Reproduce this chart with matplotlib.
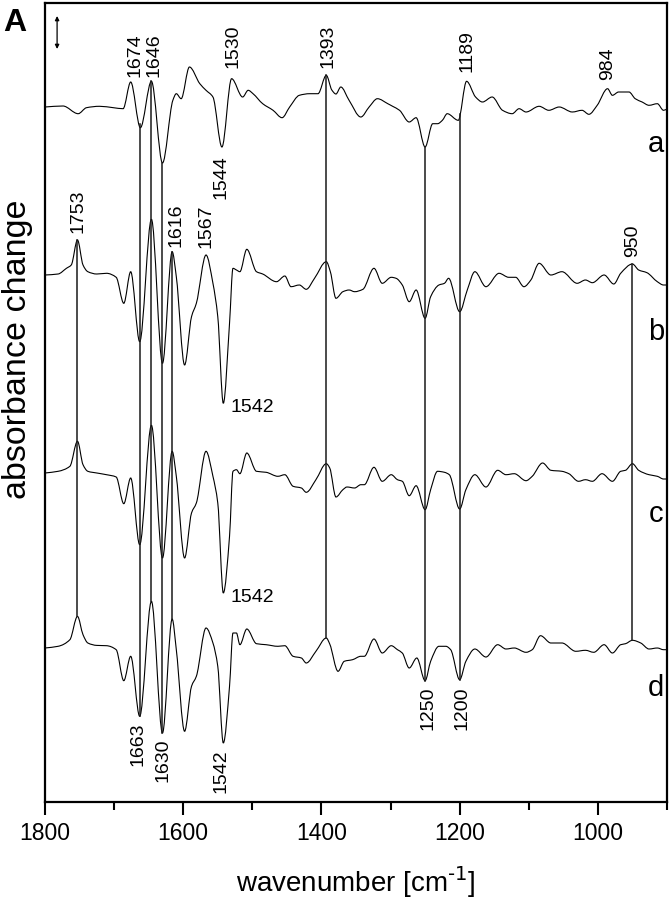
import numpy as np
import matplotlib
matplotlib.use('Agg')
import matplotlib.pyplot as plt
from matplotlib.path import Path
from matplotlib.patches import PathPatch

plt.rcParams['font.family'] = ['Liberation Sans', 'DejaVu Sans']
plt.rcParams['mathtext.default'] = 'regular'

# ---------------- data (arbitrary absorbance units) -------------
wn_a = [1800, 1774, 1752, 1740, 1721, 1701, 1687, 1676, 1662, 1646, 1630, 1615, 1610, 1603,
        1591, 1576, 1567, 1557, 1544, 1530, 1514, 1506, 1499, 1485, 1470, 1457, 1446, 1432,
        1417, 1405, 1393, 1385, 1379, 1372, 1360, 1343, 1331, 1319, 1304, 1297, 1287, 1273,
        1263, 1250, 1239, 1232, 1225, 1218, 1202, 1190, 1177, 1167, 1153, 1138, 1124, 1114,
        1104, 1085, 1071, 1056, 1037, 1023, 1013, 1001, 986, 979, 970, 955, 946, 936, 926,
        914, 905, 900]
val_a = [0, 1, -6.7, -0.7, 0.7, -0.7, -1.7, 25, -20.7, 25.7, -56, 6.7, 13.3, 8.3,
         40, 23.3, 16.7, 10, -40, 28.3, 10, 16.7, 13.3, 3.3, -3.3, -10.7, 0, 11.7,
         13.3, 13.3, 31.7, 17, 13, 20, 6.7, -10, 0, 8.3, 3.3, 0.7, -3.3, -15,
         -10.7, -40, -16.7, -16.7, -13.3, -6.7, -13.3, 25.7, 10, 5, 10, -3.3, -6.7, -1.7,
         -5, 0.7, -3.3, 0, -5, -3.3, -7.3, 1.7, 18.3, 11.7, 15, 15, 8.3, 5, 1.7,
         3.3, -3.3, -2]

wn_b = [1800, 1781, 1769, 1762, 1753, 1745, 1738, 1725, 1711, 1697, 1686, 1676, 1663, 1646,
        1630, 1616, 1610, 1598, 1588, 1581, 1567, 1557, 1550, 1542, 1533, 1528, 1523, 1518,
        1508, 1494, 1485, 1465, 1453, 1444, 1432, 1422, 1410, 1393, 1387, 1379, 1369, 1360,
        1352, 1340, 1324, 1312, 1299, 1292, 1283, 1273, 1263, 1250, 1242, 1230, 1222, 1216,
        1200, 1189, 1178, 1162, 1143, 1129, 1119, 1107, 1097, 1085, 1068, 1052, 1030, 1018,
        1008, 991, 977, 967, 950, 941, 929, 914, 905, 900]
val_b = [0, 1, 6.7, 10, 35, 10, 3.3, 1, 1.7, -2.3, -28.3, 3.3, -66.7, 55.7,
         -88.3, 23.3, -1.7, -90, -41.7, -28.3, 20, -8.3, -41.7, -128.3, -48.3, 6.7, 5, 3.3,
         25.7, 3.3, 1, -6.7, -1, -11.7, -10, -14.3, -3.3, 13.3, 3, -23.3, -16.7, -15,
         -16.7, -14.3, 6.7, -8.3, -2.3, -3.3, -10, -26.7, -15, -43.3, -21.7, -10, -8.3, -3.3,
         -36.7, -15, 3.3, -11.7, 1.7, -2.3, -2.3, -11.7, -5, 11.7, 0, 3.3, -8.3, -5,
         -7.7, 0, -9, 1.7, 11, 5, 2.3, -6.7, -10, -10]

wn_c = [1800, 1781, 1764, 1753, 1745, 1738, 1725, 1711, 1697, 1686, 1676, 1663, 1646, 1630,
        1616, 1610, 1598, 1588, 1581, 1567, 1557, 1550, 1542, 1533, 1528, 1523, 1518, 1508,
        1494, 1480, 1463, 1453, 1441, 1429, 1422, 1408, 1393, 1388, 1379, 1369, 1363, 1352,
        1343, 1338, 1324, 1312, 1299, 1290, 1283, 1273, 1263, 1250, 1242, 1232, 1222, 1215,
        1200, 1191, 1178, 1162, 1145, 1133, 1121, 1104, 1095, 1080, 1068, 1052, 1042, 1028,
        1018, 1008, 994, 979, 967, 960, 950, 941, 926, 914, 905, 900]
val_c = [0, 1.7, 6.7, 31.7, 8.3, 1.7, 0, -1.7, -4, -30.7, -5, -71.7, 47.7, -85,
         21.7, -3.3, -85, -40, -30, 21.7, -3.3, -30, -120, -63.3, 1.7, 3.3, -0.7, 20,
         1.7, 0.7, -3.3, -1.7, -13.3, -15, -19.3, -6.7, 9.3, 5, -24, -16.7, -14, -15,
         -11.7, -11.7, 5.7, -8.3, -1.7, -6.7, -8.3, -22.7, -12.7, -36.7, -16.7, 1.7, 0.7, -1.7,
         -36, -16.7, -1.7, -14, 2.7, -1.7, -0.7, -7.7, -3.3, 10, 2.7, 1.7, -0.7, -8.3,
         -6.7, -8.3, -0.7, -8.3, 1.7, 2.7, 9.3, 2.7, -1.7, -3.3, -6, -6]

wn_d = [1800, 1781, 1764, 1753, 1745, 1738, 1725, 1711, 1697, 1686, 1676, 1663, 1646, 1630,
        1616, 1610, 1598, 1588, 1581, 1567, 1557, 1550, 1542, 1533, 1528, 1523, 1518, 1508,
        1494, 1480, 1463, 1453, 1441, 1429, 1422, 1408, 1393, 1388, 1376, 1367, 1355, 1343,
        1338, 1324, 1312, 1299, 1290, 1283, 1273, 1262, 1250, 1242, 1230, 1220, 1213, 1200,
        1191, 1178, 1162, 1145, 1133, 1121, 1104, 1095, 1083, 1068, 1052, 1032, 1018, 1006,
        991, 979, 967, 960, 950, 938, 926, 914, 905, 900]
val_d = [0, 1.7, 8.3, 31.6, 13.3, 5, 2.6, 2.3, -1.7, -32.7, -8.3, -68.3, 46.7, -85,
         29, -1.7, -83.3, -38.3, -28.3, 20, 5, -18.3, -95, -38.3, 15, 15, 3.3, 19,
         4.3, 3.3, 1.7, 2.3, -8.3, -10, -15, -3.3, 10, 4, -23.3, -13.3, -11.7, -8.3,
         -8.3, 9, -5, 2.3, -1.7, -5, -20, -10, -32.7, -13.3, 1.7, 1.7, -1.7, -31.7,
         -13.3, -1, -9, 3.3, -1, 0, -4.3, -1.7, 12.3, 5, 5, -3.3, -2.3, -4.3,
         3.3, -5, 3.3, 4.3, 7.7, 5, -1, 0, -1.7, -1.7]

trace_names = ['a', 'b', 'c', 'd']
trace_offsets = [695, 527, 329, 154]

# marker lines: (wavenumber, from trace, to trace)
marker_wn = [1753, 1663, 1646, 1630, 1616, 1393, 1250, 1200, 950]
marker_from = ['b', 'a', 'a', 'a', 'b', 'a', 'a', 'a', 'b']
marker_to = ['d', 'd', 'd', 'd', 'd', 'd', 'd', 'd', 'd']

# peak labels
lab_above_text = ['1674', '1646', '1530', '1393', '1189', '984', '1753', '1616', '1567', '950']
lab_above_wn = [1670, 1642.5, 1528.5, 1391, 1190, 986.5, 1752, 1610, 1566.5, 949.5]
lab_above_y = [725, 725, 734, 734, 730, 722, 569, 555, 554, 545]
lab_below_text = ['1544', '1663', '1630', '1542', '1250', '1200']
lab_below_wn = [1545, 1666, 1629, 1545, 1245.5, 1197]
lab_below_y = [647, 80, 63, 53, 116, 116]
lab_h_text = ['1542', '1542']
lab_h_wn = [1532, 1531]
lab_h_y = [394, 204]

xticks_major = [1800, 1600, 1400, 1200, 1000]
xticks_minor = [1700, 1500, 1300, 1100, 900]

traces = {
    'a': (wn_a, val_a),
    'b': (wn_b, val_b),
    'c': (wn_c, val_c),
    'd': (wn_d, val_d),
}


def smooth_path(x, y):
    """Monotone cubic Hermite (Bezier) path through the given points."""
    x = np.asarray(x, float)
    y = np.asarray(y, float)
    order = np.argsort(x)
    x, y = x[order], y[order]
    h = np.diff(x)
    d = np.diff(y) / h
    n = len(x)
    m = np.zeros(n)
    m[0], m[-1] = d[0], d[-1]
    for k in range(1, n - 1):
        if d[k - 1] * d[k] <= 0:
            m[k] = 0.0
        else:
            w1 = 2 * h[k] + h[k - 1]
            w2 = h[k] + 2 * h[k - 1]
            m[k] = (w1 + w2) / (w1 / d[k - 1] + w2 / d[k])
    verts = [(x[0], y[0])]
    codes = [Path.MOVETO]
    for k in range(n - 1):
        verts += [(x[k] + h[k] / 3, y[k] + m[k] * h[k] / 3),
                  (x[k + 1] - h[k] / 3, y[k + 1] - m[k + 1] * h[k] / 3),
                  (x[k + 1], y[k + 1])]
        codes += [Path.CURVE4] * 3
    return Path(verts, codes)


fig = plt.figure(figsize=(6.71, 9.0), dpi=100)
ax = fig.add_axes([45 / 671, 1 - 802 / 900, 622 / 671, 799 / 900])
ax.set_xlim(1800, 900)
ax.set_ylim(0, 799)

offs = dict(zip(trace_names, trace_offsets))
for name in trace_names:
    wn, val = traces[name]
    yy = np.asarray(val) + offs[name]
    ax.add_patch(PathPatch(smooth_path(wn, yy), fill=False, edgecolor='black', lw=0.8))


def trace_y(name, w):
    wn, val = traces[name]
    return np.interp(w, wn[::-1], val[::-1]) + offs[name]


for w, f, t in zip(marker_wn, marker_from, marker_to):
    ax.plot([w, w], [trace_y(f, w), trace_y(t, w)], color='#1a1a1a', lw=1.1)

for s, w, y in zip(lab_above_text, lab_above_wn, lab_above_y):
    ax.text(w, y, s, rotation=90, ha='center', va='bottom', fontsize=14)
for s, w, y in zip(lab_below_text, lab_below_wn, lab_below_y):
    ax.text(w, y, s, rotation=90, ha='center', va='top', fontsize=14)
for s, w, y in zip(lab_h_text, lab_h_wn, lab_h_y):
    ax.text(w, y, s, ha='left', va='center', fontsize=14)

letter_y = [650, 462, 280, 106]
for name, y in zip(trace_names, letter_y):
    ax.text(916, y, name, ha='center', va='baseline', fontsize=21)

# scale arrow
ax.annotate('', xy=(1782.5, 786), xytext=(1782.5, 753),
            arrowprops=dict(arrowstyle='<|-|>', lw=0.9, color='black',
                            mutation_scale=6, shrinkA=0, shrinkB=0))

ax.set_xticks(xticks_major)
ax.set_xticks(xticks_minor, minor=True)
ax.set_xticklabels([str(v) for v in xticks_major], fontsize=16.5)
ax.set_yticks([])
ax.tick_params(axis='x', which='major', direction='out', length=9.5, width=1.5, pad=5)
ax.tick_params(axis='x', which='minor', direction='out', length=5.5, width=1.5)
for sp in ax.spines.values():
    sp.set_linewidth(1.6)

ax.set_xlabel('wavenumber [cm$^{\\text{-1}}$]', fontsize=20)
ax.xaxis.set_label_coords(0.5, -0.079)
ax.set_ylabel('absorbance change', fontsize=24.5, va='center')
ax.yaxis.set_label_coords(-0.0435, 0.567)

fig.text(3 / 671, 1 - 8 / 900, 'A', fontsize=23, fontweight='bold', ha='left', va='top')

fig.savefig('out.png', dpi=100)
